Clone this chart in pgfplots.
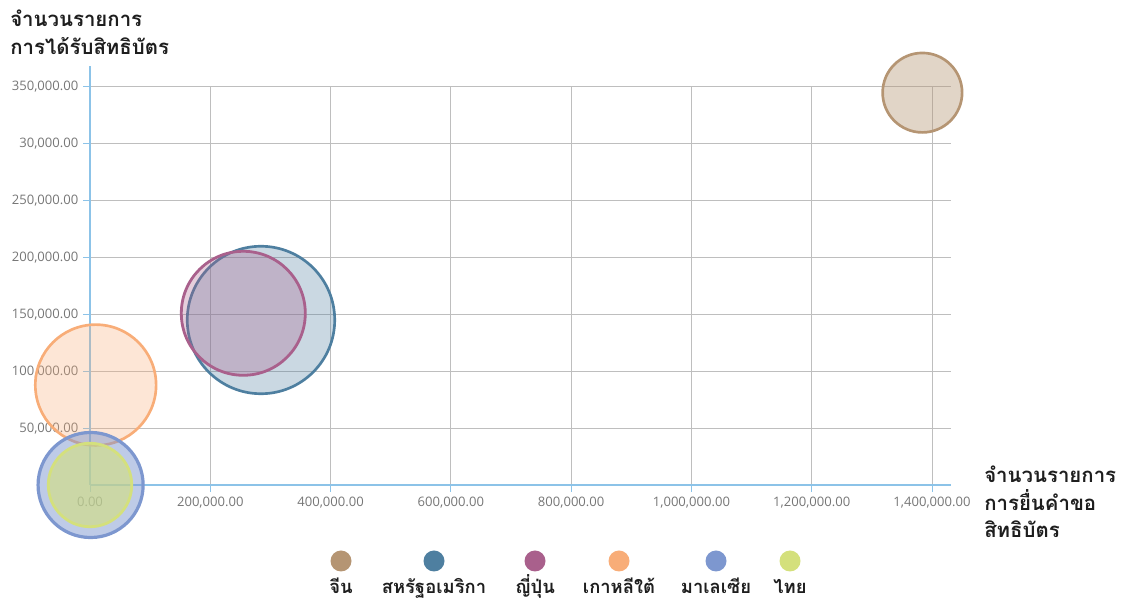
\documentclass[border=0pt]{standalone}
\usepackage{fontspec}
\setmainfont{Open Sans}
\newfontfamily\thai[Script=Thai]{Loma}
\usepackage{pgfplots}
\pgfplotsset{compat=1.18}

\definecolor{axisblue}{RGB}{140,195,232}
\definecolor{gridgray}{RGB}{190,190,190}
\definecolor{tickgray}{RGB}{118,118,118}
\definecolor{titlec}{RGB}{30,30,30}
\definecolor{cChina}{RGB}{181,149,115}
\definecolor{cUSA}{RGB}{78,127,160}
\definecolor{cJapan}{RGB}{169,96,140}
\definecolor{cKorea}{RGB}{248,173,120}
\definecolor{cMalay}{RGB}{125,151,207}
\definecolor{cThai}{RGB}{212,224,124}

% bubble={colour}{fill opacity}{line width}
\pgfplotsset{bubble/.style n args={3}{only marks, mark=*, mark options={draw=#1, fill=#1, fill opacity=#2, draw opacity=1, line width=#3}}}
% grid and axis lines under the bubbles, tick labels above them
\pgfplotsset{layers/labelsontop/.define layer set={
  axis background,axis grid,axis ticks,axis lines,main,axis tick labels,axis descriptions,axis foreground}{}}

% px scope: 1 unit = one pixel of the 1121x602 reference, y up from the bottom edge;
% the axis origin (0,0) sits at pixel (90,485)
\tikzset{px/.style={x=0.75pt, y=0.75pt, shift={(-67.5pt,-87.75pt)}}}

\begin{document}
\begin{tikzpicture}
\begin{scope}[px]
\useasboundingbox (0,0) rectangle (1121,602);
\end{scope}
\begin{axis}[
  set layers=labelsontop,
  scale only axis,
  width=645.75pt, height=298.5pt,
  xmin=0, xmax=1431600, ymin=0, ymax=350000,
  clip=false, scaled ticks=false,
  axis x line=bottom, axis y line=left,
  axis line style={-, axisblue, line width=0.9pt},
  tick align=outside, major tick length=5.25pt,
  tick style={axisblue, line width=0.75pt},
  grid=major, major grid style={gridgray, line width=0.75pt},
  xtick={0,200000,400000,600000,800000,1000000,1200000,1400000},
  xticklabels={{0.00},{200,000.00},{400,000.00},{600,000.00},{800,000.00},{1,000,000.00},{1,200,000.00},{1,400,000.00}},
  ytick={50000,100000,150000,200000,250000,300000,350000},
  yticklabels={{50,000.00},{100,000.00},{150,000.00},{200,000.00},{250,000.00},{30,000.00},{350,000.00}},
  ticklabel style={font=\fontsize{9.8}{11}\selectfont, text=tickgray},
]
\draw[axisblue, line width=0.9pt] (axis cs:0,349000) -- (axis cs:0,368500);
% China, USA, Japan, Korea, Malaysia, Thailand
\addplot[bubble={cChina}{0.4}{2pt}, mark size=29.8pt] coordinates {(1384000,345000)};
\addplot[bubble={cUSA}{0.3}{2pt}, mark size=55.3pt] coordinates {(284300,145100)};
\addplot[bubble={cJapan}{0.3}{2.1pt}, mark size=46.5pt] coordinates {(254900,151000)};
\addplot[bubble={cKorea}{0.3}{2pt}, mark size=45.3pt] coordinates {(9500,87900)};
\addplot[bubble={cMalay}{0.5}{2.4pt}, mark size=39.4pt] coordinates {(1000,0)};
\addplot[bubble={cThai}{0.6}{2.1pt}, mark size=31.3pt] coordinates {(0,0)};
\end{axis}

\begin{scope}[px]
% axis titles
\node[anchor=north west, align=left, inner sep=0pt, text=titlec,
  font=\thai\bfseries\fontsize{15.3}{20.4}\selectfont] at (10,592)
  {จำนวนรายการ\\การได้รับสิทธิบัตร};
\node[anchor=north west, align=left, inner sep=0pt, text=titlec,
  font=\thai\bfseries\fontsize{15.3}{20.6}\selectfont] at (984,136)
  {จำนวนรายการ\\การยื่นคำขอ\\สิทธิบัตร};
% legend
\foreach \xx/\cc/\lbl in {341/cChina/จีน, 434/cUSA/สหรัฐอเมริกา, 535/cJapan/ญี่ปุ่น, 619/cKorea/เกาหลีใต้, 716/cMalay/มาเลเซีย, 790/cThai/ไทย}{
  \fill[\cc] (\xx,41) circle (10.5);
  \node[anchor=base, inner sep=0pt, text=titlec, font=\thai\bfseries\fontsize{13.8}{15}\selectfont] at (\xx,8) {\lbl};
}
\end{scope}
\end{tikzpicture}
\end{document}
